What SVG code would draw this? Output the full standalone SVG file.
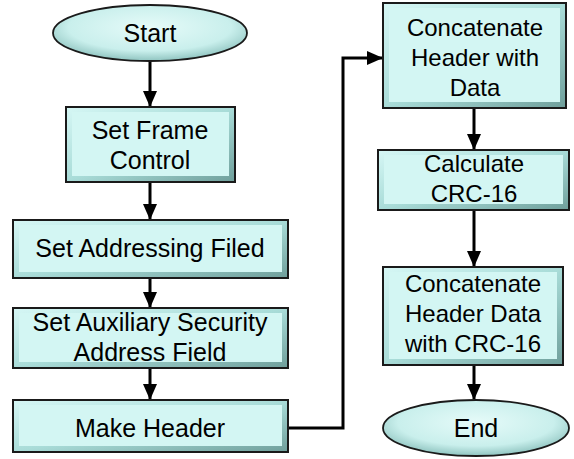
<svg xmlns="http://www.w3.org/2000/svg" width="574" height="459" viewBox="0 0 574 459">
<defs>
<style>
.outer{fill:url(#bev);stroke:#1a1a1a;stroke-width:2}
.inner{fill:#d3f6f3;stroke:none}
.ell{fill:url(#eg);stroke:#1a1a1a;stroke-width:1.8}
.t{font-family:"Liberation Sans",Arial,sans-serif;font-size:25px;fill:#000;text-anchor:middle}
.r{font-size:24px}
.c{fill:none;stroke:#000;stroke-width:3}
</style>
<linearGradient id="bev" x1="0" y1="0" x2="1" y2="1">
<stop offset="0" stop-color="#d6f7f5"/>
<stop offset="0.5" stop-color="#a9dcd8"/>
<stop offset="1" stop-color="#6f9f9b"/>
</linearGradient>
<radialGradient id="eg" cx="0.5" cy="0.4" r="0.6">
<stop offset="0" stop-color="#e6fbf9"/>
<stop offset="0.7" stop-color="#c9efec"/>
<stop offset="1" stop-color="#8fc4c0"/>
</radialGradient>
<marker id="ah" markerWidth="16" markerHeight="14" viewBox="0 0 16 14" refX="15" refY="7" orient="auto" markerUnits="userSpaceOnUse">
<path d="M0,0 L16,7 L0,14 Z" fill="#000"/>
</marker>
</defs>
<rect width="574" height="459" fill="#fff"/>
<g id="connectors">
<path class="c" d="M150,60 V106" marker-end="url(#ah)"/>
<path class="c" d="M150,182 V219" marker-end="url(#ah)"/>
<path class="c" d="M150,278 V307" marker-end="url(#ah)"/>
<path class="c" d="M150,368 V399" marker-end="url(#ah)"/>
<path class="c" d="M288,428 H343 V58 H382" marker-end="url(#ah)"/>
<path class="c" d="M474,108 V149" marker-end="url(#ah)"/>
<path class="c" d="M474,210 V266" marker-end="url(#ah)"/>
<path class="c" d="M474,365 V399" marker-end="url(#ah)"/>
</g>
<g id="start">
<ellipse class="ell" cx="150" cy="33" rx="97" ry="28"/>
<text class="t" x="150" y="42">Start</text>
</g>
<g id="set-frame-control">
<rect class="outer" x="66" y="107" width="169" height="75"/>
<rect class="inner" x="72" y="112" width="157" height="64"/>
<text class="t" x="150" y="139">Set Frame</text>
<text class="t" x="150" y="169">Control</text>
</g>
<g id="set-addressing">
<rect class="outer" x="13" y="220" width="275" height="58"/>
<rect class="inner" x="19" y="225" width="263" height="47"/>
<text class="t" x="150" y="257">Set Addressing Filed</text>
</g>
<g id="set-auxiliary">
<rect class="outer" x="13" y="308" width="275" height="60"/>
<rect class="inner" x="19" y="313" width="263" height="49"/>
<text class="t" x="150" y="331">Set Auxiliary Security</text>
<text class="t" x="150" y="361">Address Field</text>
</g>
<g id="make-header">
<rect class="outer" x="13" y="400" width="275" height="52"/>
<rect class="inner" x="19" y="405" width="263" height="41"/>
<text class="t" x="150" y="437">Make Header</text>
</g>
<g id="concat-header-data">
<rect class="outer" x="383" y="3" width="183" height="105"/>
<rect class="inner" x="389" y="8" width="171" height="94"/>
<text class="t r" x="475" y="36">Concatenate</text>
<text class="t r" x="475" y="66">Header with</text>
<text class="t r" x="475" y="96">Data</text>
</g>
<g id="calculate-crc">
<rect class="outer" x="378" y="150" width="191" height="60"/>
<rect class="inner" x="384" y="155" width="179" height="49"/>
<text class="t r" x="474" y="172">Calculate</text>
<text class="t r" x="474" y="202">CRC-16</text>
</g>
<g id="concat-crc">
<rect class="outer" x="383" y="267" width="180" height="98"/>
<rect class="inner" x="389" y="272" width="168" height="87"/>
<text class="t r" x="473" y="292">Concatenate</text>
<text class="t r" x="473" y="322">Header Data</text>
<text class="t r" x="473" y="352">with CRC-16</text>
</g>
<g id="end">
<ellipse class="ell" cx="476" cy="428" rx="93" ry="28"/>
<text class="t" x="476" y="437">End</text>
</g>
</svg>
